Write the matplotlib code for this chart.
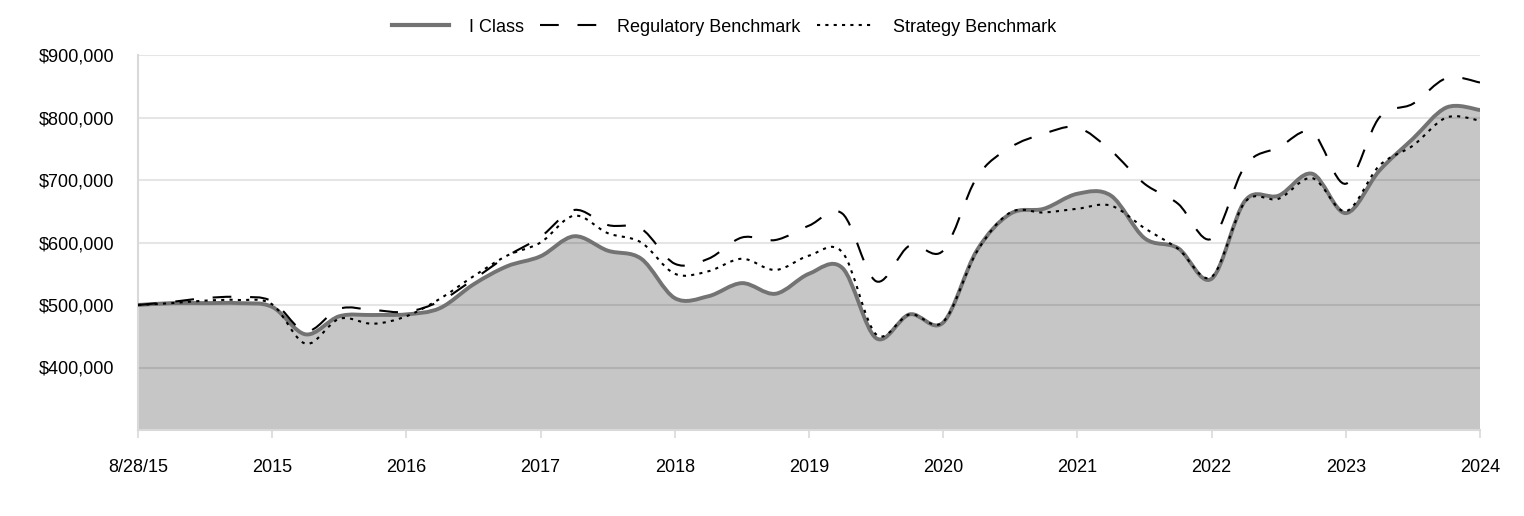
import numpy as np
import matplotlib
matplotlib.use("Agg")
import matplotlib.pyplot as plt
from matplotlib.path import Path
from matplotlib.patches import PathPatch
from matplotlib.lines import Line2D
from matplotlib.ticker import FuncFormatter

plt.rcParams['font.family'] = ['Liberation Sans', 'DejaVu Sans']

# quarterly values (41 points, 4 per tick interval)
i_class = [500, 503, 503, 503, 497, 453, 482, 484, 485, 495,
           533, 562, 578, 610, 587, 574, 511, 514, 535, 518,
           550, 559, 447, 485, 472, 587, 646, 654, 678, 675,
           607, 591, 542, 667, 675, 710, 647, 715, 766, 816, 812]
regulatory = [500, 505, 511, 513, 506, 458, 494, 492, 489, 506,
              541, 578, 609, 652, 628, 622, 566, 574, 608, 604,
              627, 646, 538, 595, 587, 704, 752, 774, 784, 747,
              694, 662, 606, 723, 752, 776, 694, 800, 822, 863, 856]
strategy = [500, 503, 507, 508, 501, 438, 478, 470, 482, 510,
            546, 579, 600, 643, 615, 600, 550, 554, 574, 556,
            579, 584, 453, 485, 473, 585, 648, 648, 654, 659,
            623, 590, 545, 665, 670, 703, 650, 723, 755, 800, 795]
tick_labels = ['8/28/15', '2015', '2016', '2017', '2018', '2019',
               '2020', '2021', '2022', '2023', '2024']

def smooth_path(xs, ys):
    # cubic bezier through the points (catmull-rom style control points)
    xs = np.asarray(xs, float)
    ys = np.asarray(ys, float)
    n = len(xs)
    verts = [(xs[0], ys[0])]
    codes = [Path.MOVETO]
    for i in range(n - 1):
        p0 = max(i - 1, 0)
        p3 = min(i + 2, n - 1)
        c1 = (xs[i] + (xs[i + 1] - xs[p0]) / 6, ys[i] + (ys[i + 1] - ys[p0]) / 6)
        c2 = (xs[i + 1] - (xs[p3] - xs[i]) / 6, ys[i + 1] - (ys[p3] - ys[i]) / 6)
        verts += [c1, c2, (xs[i + 1], ys[i + 1])]
        codes += [Path.CURVE4] * 3
    return verts, codes

x = np.arange(len(i_class))
ic = np.array(i_class) * 1000
rb = np.array(regulatory) * 1000
sb = np.array(strategy) * 1000
ymin, ymax = 300000, 900000

fig = plt.figure(figsize=(15.24, 5.16), dpi=100)
ax = fig.add_axes([138 / 1524, 1 - 430 / 516, (1480 - 138) / 1524, (430 - 55) / 516])
ax.set_xlim(0, len(x) - 1)
ax.set_ylim(ymin, ymax)

# area under I Class
v, c = smooth_path(x, ic)
v = v + [(x[-1], ymin), (x[0], ymin), (x[0], ic[0])]
c = c + [Path.LINETO, Path.LINETO, Path.CLOSEPOLY]
ax.add_patch(PathPatch(Path(v, c), facecolor='#c6c6c6', edgecolor='none', zorder=1))

for yv in range(400000, 900001, 100000):
    ax.axhline(yv, color='black', alpha=0.1, lw=1.5, zorder=2)

v, c = smooth_path(x, ic)
ax.add_patch(PathPatch(Path(v, c), fill=False, edgecolor='#737373', lw=2.8,
                       capstyle='round', zorder=3))
v, c = smooth_path(x, rb)
ax.add_patch(PathPatch(Path(v, c), fill=False, edgecolor='black', lw=1.5,
                       linestyle=(0, (9, 9)), zorder=4))
v, c = smooth_path(x, sb)
ax.add_patch(PathPatch(Path(v, c), fill=False, edgecolor='black', lw=1.5,
                       linestyle=(0, (1.5, 2.5)), zorder=4))

ax.set_xticks(x[::4])
ax.set_xticklabels(tick_labels)
ax.set_yticks(range(400000, 900001, 100000))
ax.yaxis.set_major_formatter(FuncFormatter(lambda v, p: '${:,.0f}'.format(v)))
ax.tick_params(axis='y', length=0, pad=17, labelsize=13, colors='black')
ax.tick_params(axis='x', length=6, width=1.2, pad=15, labelsize=13,
               colors='#d9d9d9', labelcolor='black')
for s in ['top', 'right']:
    ax.spines[s].set_visible(False)
for s in ['left', 'bottom']:
    ax.spines[s].set_color('#d9d9d9')
    ax.spines[s].set_linewidth(1.5)

handles = [Line2D([], [], color='#737373', lw=3),
           Line2D([], [], color='black', lw=1.5, linestyle=(0, (9, 9))),
           Line2D([], [], color='black', lw=1.5, linestyle=(0, (1.5, 2.5)))]
fig.legend(handles, ['I Class', 'Regulatory Benchmark', 'Strategy Benchmark'],
           loc='center', bbox_to_anchor=(0.4754, 1 - 27 / 516), ncol=3,
           frameon=False, fontsize=13, handlelength=3.15, handletextpad=1.1,
           columnspacing=0.9)

fig.savefig('out.png', dpi=100)
